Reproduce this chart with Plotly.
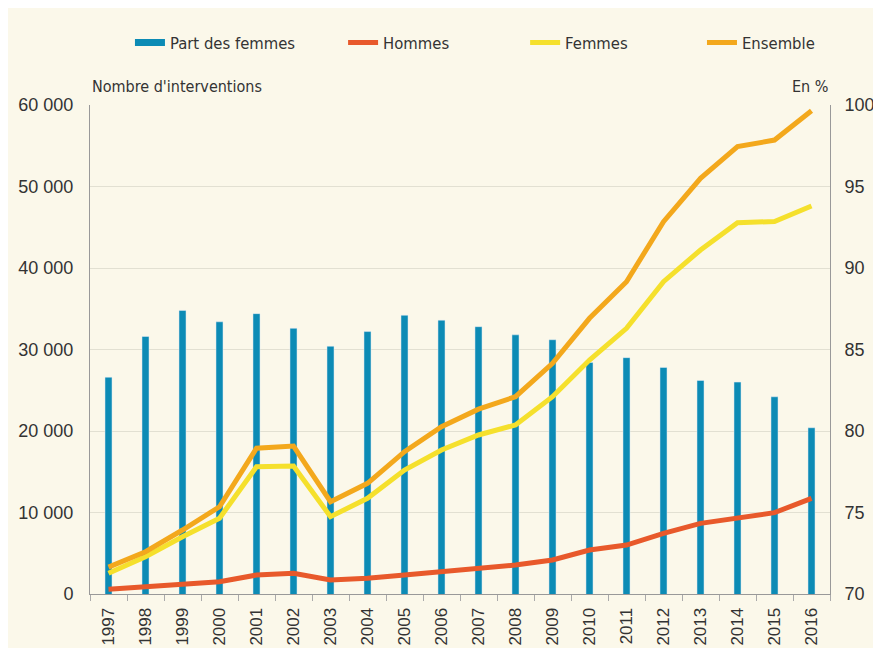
import plotly.graph_objects as go

years = [str(y) for y in range(1997, 2017)]
part_femmes = [83.3, 85.8, 87.4, 86.7, 87.2, 86.3, 85.2, 86.1, 87.1, 86.8,
               86.4, 85.9, 85.6, 84.2, 84.5, 83.9, 83.1, 83.0, 82.1, 80.2]
hommes = [580, 900, 1230, 1510, 2330, 2540, 1720, 1920, 2330, 2740,
          3100, 3560, 4170, 5400, 6010, 7450, 8670, 9290, 9980, 11740]
femmes = [2540, 4580, 7030, 9290, 15620, 15700, 9490, 11740, 15210, 17670,
          19510, 20740, 24210, 28710, 32600, 38320, 42210, 45560, 45700, 47610]
ensemble = [3300, 5190, 7850, 10700, 17880, 18160, 11330, 13580, 17460, 20530,
            22680, 24210, 28300, 33830, 38320, 45680, 51000, 54890, 55700, 59300]

BLUE = "#0C8BB5"
RED = "#E8592B"
YELLOW = "#F5E02C"
ORANGE = "#F3A81C"
BG = "#FBF8EA"
NARROW = "DejaVu Sans Condensed, sans-serif"
REG = "Liberation Sans, Arial, sans-serif"
TXT = "#333333"

fig = go.Figure()
fig.add_trace(go.Bar(x=years, y=part_femmes, name="Part des femmes", marker_color=BLUE,
                     width=0.19, yaxis="y", showlegend=False, legendgroup="pf"))
fig.add_trace(go.Scatter(x=[None], y=[None], mode="lines", name="Part des femmes",
                         line=dict(color=BLUE, width=7), yaxis="y2", legendgroup="pf",
                         legend="legend"))
fig.add_trace(go.Scatter(x=years, y=hommes, mode="lines", name="Hommes",
                         line=dict(color=RED, width=5), yaxis="y2", legend="legend2"))
fig.add_trace(go.Scatter(x=years, y=femmes, mode="lines", name="Femmes",
                         line=dict(color=YELLOW, width=5), yaxis="y2", legend="legend3"))
fig.add_trace(go.Scatter(x=years, y=ensemble, mode="lines", name="Ensemble",
                         line=dict(color=ORANGE, width=5), yaxis="y2", legend="legend4"))


def leg(x):
    return dict(orientation="h", x=x, y=1.127, xanchor="left", yanchor="middle",
                font=dict(family=NARROW, size=16.5, color=TXT),
                bgcolor="rgba(0,0,0,0)")


fig.update_layout(
    width=873, height=640,
    paper_bgcolor=BG, plot_bgcolor=BG,
    margin=dict(l=82, r=51, t=97, b=54, autoexpand=False),
    separators=", ",
    font=dict(family=REG, size=18, color=TXT),
    xaxis=dict(type="category", range=[-0.5, 19.5], tickangle=-90, automargin=False,
               ticks="outside", tickson="boundaries", ticklen=6, tickcolor="#AAAAAA",
               ticklabelstandoff=6,
               showline=True, linecolor="#999999", linewidth=1, showgrid=False,
               tickfont=dict(family=REG, size=17, color=TXT)),
    yaxis=dict(side="right", range=[70, 100], dtick=5, showgrid=True, automargin=False,
               gridcolor="#E2E0D2", gridwidth=1, showline=True, linecolor="#999999",
               ticks="", ticklabelstandoff=10, zeroline=False,
               tickfont=dict(family=REG, size=18, color=TXT)),
    yaxis2=dict(side="left", overlaying="y", range=[0, 60000], dtick=10000, automargin=False,
                tickformat=",d", showgrid=False, showline=True, linecolor="#999999",
                ticks="", ticklabelstandoff=12, zeroline=False,
                tickfont=dict(family=REG, size=18, color=TXT)),
    legend=leg(0.054),
    legend2=leg(0.342),
    legend3=leg(0.588),
    legend4=leg(0.827),
    annotations=[
        dict(text="Nombre d'interventions", xref="paper", yref="paper", x=0.0, y=1.015,
             xanchor="left", yanchor="bottom", showarrow=False,
             font=dict(family=NARROW, size=16, color=TXT)),
        dict(text="En %", xref="paper", yref="paper", x=1.0, y=1.015,
             xanchor="right", yanchor="bottom", showarrow=False,
             font=dict(family=NARROW, size=16, color=TXT)),
    ],
)

fig.write_html("out.html")
